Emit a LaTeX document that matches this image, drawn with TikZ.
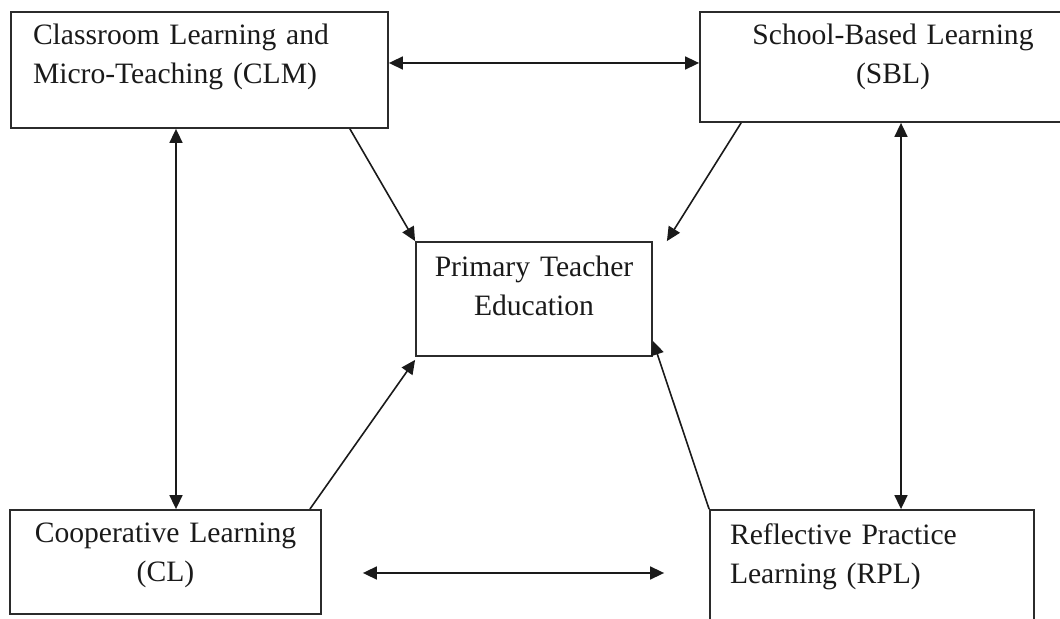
\documentclass[tikz,border=0pt]{standalone}
\usepackage{fontspec}
\setmainfont{Liberation Serif}
\usetikzlibrary{arrows.meta}
\definecolor{ink}{HTML}{1A1A1A}
\definecolor{frame}{HTML}{2B2B2B}
\newcommand{\boxfont}{\fontsize{14.8}{19.5}\selectfont}
\tikzset{
 every node/.append style={font=\boxfont,text=ink},
 box/.style={draw=frame,line width=.9pt,inner xsep=0pt,inner ysep=0pt,text height=12pt},
 flow/.style={-{Triangle[length=7pt,width=6.5pt]},draw=ink,line width=.8pt},
 link/.style={{Triangle[length=7pt,width=6.5pt]}-{Triangle[length=7pt,width=6.5pt]},draw=ink,line width=.8pt},
}
\begin{document}
\begin{tikzpicture}[x=.5pt,y=-.5pt]

\useasboundingbox (0,0) rectangle (1060,619);
\node[box,minimum width=188.5pt,minimum height=58pt,text width=166.5pt,align=left,text depth=37pt] (clm) at (199.5,70) {Classroom Learning and\\Micro-Teaching (CLM)};
\node[box,minimum width=193pt,minimum height=55pt,text width=183pt,align=center,text depth=34pt] (sbl) at (893,67) {School-Based Learning\\(SBL)};
\node[box,minimum width=118pt,minimum height=57pt,text width=110pt,align=center,text depth=34pt] (pte) at (534,299) {Primary Teacher\\Education};
\node[box,minimum width=155.5pt,minimum height=52pt,text width=145pt,align=center,text depth=31pt] (cl) at (165.5,562) {Cooperative Learning\\(CL)};
\node[box,minimum width=162pt,minimum height=58pt,text width=142pt,align=left,text depth=35pt] (rpl) at (872,568) {Reflective Practice\\Learning (RPL)};
\draw[link] ([yshift=3.5pt]clm.east) -- ([yshift=2pt]sbl.west);
\draw[link] ([xshift=-11.75pt]clm.south) -- ([xshift=5.25pt]cl.north);
\draw[link] ([xshift=4pt]sbl.south) -- ([xshift=14.5pt]rpl.north);
\draw[link] ([shift={(20.5pt,-5.5pt)}]cl.east) -- ([shift={(-22.5pt,-2.5pt)}]rpl.west);
\draw[flow] ([xshift=-19.5pt]clm.south east) -- (pte.north west);
\draw[flow] ([xshift=21pt]sbl.south west) -- ([xshift=7pt]pte.north east);
\draw[flow] ([xshift=-6pt]cl.north east) -- ([yshift=-1.5pt]pte.south west);
\draw[flow] (rpl.north west) -- ([yshift=8pt]pte.south east);

\end{tikzpicture}
\end{document}
